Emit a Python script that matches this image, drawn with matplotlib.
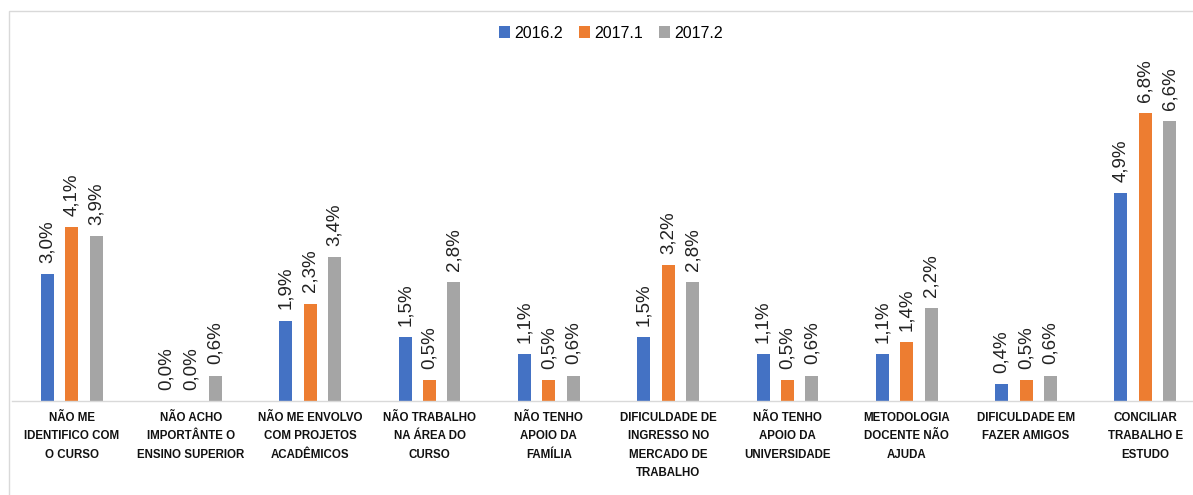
import matplotlib
matplotlib.use("Agg")
import matplotlib.pyplot as plt
from matplotlib.patches import Rectangle
import numpy as np

categories = [
    "NÃO ME\nIDENTIFICO COM\nO CURSO",
    "NÃO ACHO\nIMPORTÂNTE O\nENSINO SUPERIOR",
    "NÃO ME ENVOLVO\nCOM PROJETOS\nACADÊMICOS",
    "NÃO TRABALHO\nNA ÁREA DO\nCURSO",
    "NÃO TENHO\nAPOIO DA\nFAMÍLIA",
    "DIFICULDADE DE\nINGRESSO NO\nMERCADO DE\nTRABALHO",
    "NÃO TENHO\nAPOIO DA\nUNIVERSIDADE",
    "METODOLOGIA\nDOCENTE NÃO\nAJUDA",
    "DIFICULDADE EM\nFAZER AMIGOS",
    "CONCILIAR\nTRABALHO E\nESTUDO",
]
series_names = ["2016.2", "2017.1", "2017.2"]
s2016_2 = [3.0, 0.0, 1.9, 1.5, 1.1, 1.5, 1.1, 1.1, 0.4, 4.9]
s2017_1 = [4.1, 0.0, 2.3, 0.5, 0.5, 3.2, 0.5, 1.4, 0.5, 6.8]
s2017_2 = [3.9, 0.6, 3.4, 2.8, 0.6, 2.8, 0.6, 2.2, 0.6, 6.6]
colors = ["#4472C4", "#ED7D31", "#A5A5A5"]

W, H = 1193, 495
fig = plt.figure(figsize=(W / 100, H / 100), dpi=100)
fig.patch.set_facecolor("white")

# frame (left & top visible)
fig.add_artist(Rectangle((9 / W, -0.1), 1.2, (495 - 11) / H + 0.1,
                         transform=fig.transFigure, fill=False,
                         edgecolor="#D9D9D9", linewidth=1.0))

base_y = 401
ymax = 8.0
px_per = 288 / 6.8
top_y = base_y - ymax * px_per
ax_left, ax_right = 12, 1205
ax = fig.add_axes([ax_left / W, (H - base_y) / H, (ax_right - ax_left) / W,
                   (base_y - top_y) / H])
ax.set_xlim(-0.5, 9.5)
ax.set_ylim(0, ymax)

x = np.arange(len(categories))
bw = 13 / 119.4
off = 24.4 / 119.4
data = [s2016_2, s2017_1, s2017_2]
for k, (vals, name, c) in enumerate(zip(data, series_names, colors)):
    bars = ax.bar(x + (k - 1) * off, vals, width=bw, color=c, label=name, zorder=2)
    for b, v in zip(bars, vals):
        ax.annotate(f"{v:.1f}%".replace(".", ","),
                    (b.get_x() + b.get_width() / 2, v),
                    xytext=(0, 8), textcoords="offset points",
                    rotation=90, ha="center", va="bottom",
                    fontsize=13.5, family="Liberation Sans", color="#222222")

for s in ["top", "right", "left"]:
    ax.spines[s].set_visible(False)
ax.spines["bottom"].set_color("#D9D9D9")
ax.spines["bottom"].set_linewidth(1.0)
ax.set_yticks([])
ax.set_xticks(x)
ax.set_xticklabels(categories, fontsize=8.3, fontweight="bold",
                   family="Liberation Sans", linespacing=1.7, color="#111111")
ax.tick_params(axis="x", length=0, pad=8)

leg = fig.legend(loc="center", bbox_to_anchor=(611 / W, (H - 33) / H),
                 ncol=3, frameon=False,
                 prop={"family": "Liberation Sans", "size": 11.5},
                 handlelength=0.7, handleheight=0.7, handletextpad=0.25,
                 columnspacing=1.0)

fig.savefig("out.png", dpi=100)
